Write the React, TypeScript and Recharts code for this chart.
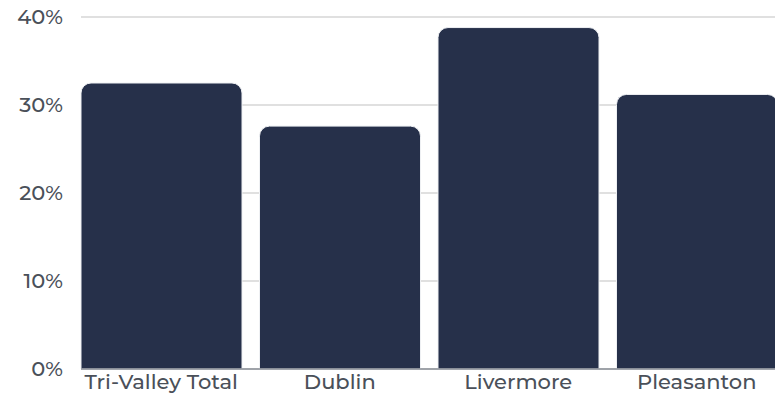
import React from "react";
import { BarChart, Bar, XAxis, YAxis, CartesianGrid } from "recharts";

const categories = ["Tri-Valley Total", "Dublin", "Livermore", "Pleasanton"];
const values = [32.5, 27.6, 38.8, 31.2];
const yTicks = [0, 10, 20, 30, 40];

const data = categories.map((name, i) => ({ name, value: values[i] }));

const font = "Montserrat, 'Open Sans', 'Noto Sans', sans-serif";

export default function App() {
  return (
    <div style={{ position: "absolute", left: 0, top: 0, width: 775, height: 405, overflow: "hidden", background: "#fff" }}>
      <BarChart
        width={800}
        height={405}
        data={data}
        margin={{ top: 17, right: 14, bottom: 0, left: 0 }}
        barCategoryGap={9}
      >
        <CartesianGrid horizontal vertical={false} stroke="#d6d6d6" strokeWidth={1.5} />
        <YAxis
          domain={[0, 40]}
          ticks={yTicks}
          tickFormatter={(v: number) => `${v}%`}
          axisLine={false}
          tickLine={false}
          tickSize={0}
          tickMargin={18}
          width={81}
          tick={{ fill: "#4a5059", fontSize: 21, fontWeight: 500, fontFamily: font }}
        />
        <XAxis
          dataKey="name"
          padding={{ left: -9, right: 0 }}
          axisLine={{ stroke: "#8a8f97", strokeWidth: 1.5 }}
          tickLine={false}
          tickSize={0}
          tickMargin={5}
          height={36}
          tick={{ fill: "#4a5059", fontSize: 21, fontWeight: 500, fontFamily: font }}
        />
        <Bar dataKey="value" fill="#26304a" stroke="#eef0f3" strokeWidth={1} radius={[10, 10, 0, 0]} isAnimationActive={false} />
      </BarChart>
    </div>
  );
}
